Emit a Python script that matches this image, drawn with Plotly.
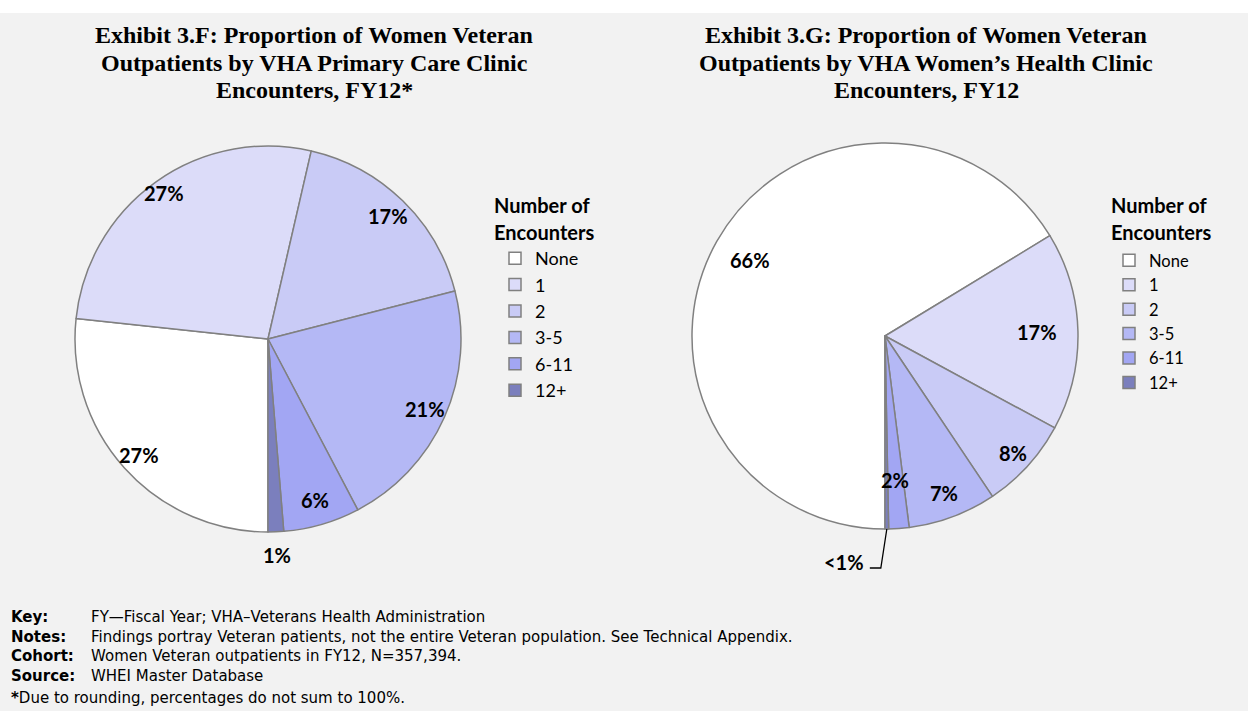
import math
import plotly.graph_objects as go


# Two pie charts of women Veteran outpatients by number of clinic encounters, FY12

W, H = 1248, 711

# Encounter categories shared by both exhibits
categories = ['None', '1', '2', '3-5', '6-11', '12+']

# Exhibit 3.F: VHA primary care clinic encounters (% of outpatients)
primary_care_values = [26.7, 26.9, 17.4, 21.3, 6.4, 1.3]
primary_care_labels = ['27%', '27%', '17%', '21%', '6%', '1%']

# Exhibit 3.G: VHA women's health clinic encounters (% of outpatients)
womens_health_values = [66.3, 16.6, 7.7, 7.4, 1.7, 0.3]
womens_health_labels = ['66%', '17%', '8%', '7%', '2%', '<1%']

titles = [
    ['Exhibit 3.F: Proportion of Women Veteran',
     'Outpatients by VHA Primary Care Clinic',
     'Encounters, FY12*'],
    ['Exhibit 3.G: Proportion of Women Veteran',
     'Outpatients by VHA Women\u2019s Health Clinic',
     'Encounters, FY12'],
]

footer_keys = ['Key:', 'Notes:', 'Cohort:', 'Source:']
footer_texts = [
    'FY\u2014Fiscal Year; VHA\u2013Veterans Health Administration',
    'Findings portray Veteran patients, not the entire Veteran population. See Technical Appendix.',
    'Women Veteran outpatients in FY12, N=357,394.',
    'WHEI Master Database',
]
footer_note = 'Due to rounding, percentages do not sum to 100%.'

slice_colors = ['#ffffff', '#dcdcf9', '#c9cbf6', '#b4b8f5', '#a2a6f3', '#7b7fbd']

# pie geometry in pixels (center x, center y from top), shared radius
ROTATION = 180
RADIUS = 193
LEFT_CENTER = (268, 339)
RIGHT_CENTER = (885, 336)

LABEL_FONT = 'Lato'
NOTE_FONT = 'DejaVu Sans'
TITLE_FONT = 'Liberation Serif'


def px_x(x):
    return x / W


def px_y(y):
    return 1 - y / H


def pie_domain(center):
    """
    Domain of a pie so that plotly draws it at the given pixel center with RADIUS.
    """
    cx, cy = center
    return dict(x=[px_x(cx - RADIUS), px_x(cx + RADIUS)],
                y=[px_y(cy + RADIUS), px_y(cy - RADIUS)])


def slice_points(values, center, fractions):
    """
    Pixel points along the middle angle of each slice, at a fraction of the radius.
    """
    total = sum(values)
    cumulative = 0
    points = []
    for value, frac in zip(values, fractions):
        angle = math.radians(ROTATION + (cumulative + value / 2) / total * 360)
        x = center[0] + RADIUS * frac * math.sin(angle)
        y = center[1] - RADIUS * frac * math.cos(angle)
        points.append((x, y))
        cumulative += value
    return points


def text_note(x, y, text, size, family=LABEL_FONT, xanchor='center', yanchor='middle'):
    """
    Plain text annotation placed in pixel coordinates.
    """
    return dict(x=px_x(x), y=px_y(y), text=text, showarrow=False, xanchor=xanchor,
                yanchor=yanchor, align='left', font=dict(family=family, size=size, color='black'))


fig = go.Figure()

fig.add_trace(go.Pie(labels=categories, values=primary_care_values, sort=False,
                     direction='clockwise', rotation=ROTATION, textinfo='none',
                     hoverinfo='label+percent', domain=pie_domain(LEFT_CENTER),
                     marker=dict(colors=slice_colors, line=dict(color='#808080', width=1.5)),
                     legend='legend', legendgroup='primary'))

fig.add_trace(go.Pie(labels=categories, values=womens_health_values, sort=False,
                     direction='clockwise', rotation=ROTATION, textinfo='none',
                     hoverinfo='label+percent', domain=pie_domain(RIGHT_CENTER),
                     marker=dict(colors=slice_colors, line=dict(color='#808080', width=1.5)),
                     legend='legend2', legendgroup='womens'))

annotations = []
shapes = []

# Slice labels
left_points = slice_points(primary_care_values, LEFT_CENTER, [0.90, 0.93, 0.89, 0.89, 0.87, 1.12])
for (x, y), text in zip(left_points, primary_care_labels):
    annotations.append(text_note(x, y, '<b>%s</b>' % text, 20))

right_points = slice_points(womens_health_values, RIGHT_CENTER, [0.80, 0.79, 0.90, 0.87, 0.75, 1.0])
for (x, y), text in zip(right_points[:-1], womens_health_labels[:-1]):
    annotations.append(text_note(x, y, '<b>%s</b>' % text, 20))

# "<1%" sits outside with a bent leader line from the slice edge
ex, ey = right_points[-1]
shapes.append(dict(type='path', xref='paper', yref='paper',
                   path='M %f,%f L %f,%f L %f,%f' % (px_x(ex), px_y(ey), px_x(ex - 6), px_y(ey + 39),
                                                   px_x(ex - 17), px_y(ey + 39)),
                   line=dict(color='black', width=1.3)))
annotations.append(text_note(ex - 21, ey + 33, '<b>%s</b>' % womens_health_labels[-1], 20,
                             xanchor='right'))

# Chart titles, one line at a time to keep the tight line spacing
for center_x, lines in zip([314, 926], titles):
    for i, line in enumerate(lines):
        annotations.append(text_note(center_x, 35 + i * 27.5, '<b>%s</b>' % line, 24,
                                     family=TITLE_FONT))

# Legend titles
for left_x in [492, 1109]:
    for i, line in enumerate(['Number of', 'Encounters']):
        annotations.append(text_note(left_x, 205 + i * 27, '<b>%s</b>' % line, 20, xanchor='left'))

# Footer: bold keys in one column, their texts in another, then the rounding note
annotations.append(text_note(9, 606, '<br>'.join('<b>%s</b>' % k for k in footer_keys), 15,
                             family=NOTE_FONT, xanchor='left', yanchor='top'))
annotations.append(text_note(89, 606, '<br>'.join(footer_texts), 15,
                             family=NOTE_FONT, xanchor='left', yanchor='top'))
annotations.append(text_note(9, 698, '<b>*</b>' + footer_note, 15, family=NOTE_FONT, xanchor='left'))

# thin white band along the top edge
shapes.append(dict(type='rect', xref='paper', yref='paper', x0=0, x1=1, y0=px_y(13), y1=1,
                   fillcolor='white', line=dict(width=0), layer='below'))

legend_style = dict(yanchor='top', xanchor='left', bgcolor='rgba(0,0,0,0)', borderwidth=0,
                    itemwidth=30, traceorder='normal')

fig.update_layout(width=W, height=H, margin=dict(l=0, r=0, t=0, b=0),
                  paper_bgcolor='#f2f2f2', plot_bgcolor='#f2f2f2',
                  legend=dict(x=px_x(495), y=px_y(240),
                              font=dict(family=LABEL_FONT, size=18, color='black'), **legend_style),
                  legend2=dict(x=px_x(1109), y=px_y(243),
                               font=dict(family=LABEL_FONT, size=16.5, color='black'), **legend_style),
                  annotations=annotations, shapes=shapes)

fig.write_html("out.html", config={'displayModeBar': False},
               post_script="document.body.style.margin='0';")
